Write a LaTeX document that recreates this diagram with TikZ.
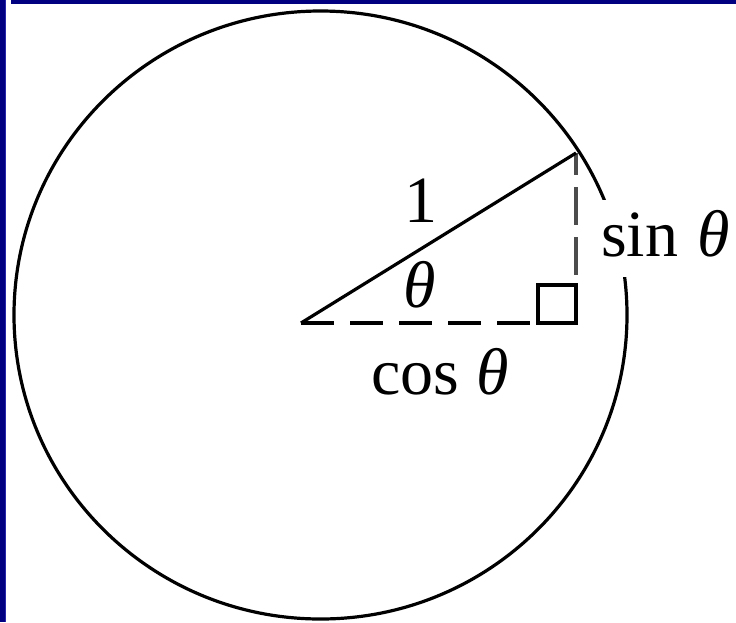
\documentclass[tikz,border=0pt]{standalone}
\usepackage{fontspec}
\setmainfont{Liberation Serif}
\definecolor{navy}{RGB}{0,0,128}
\definecolor{navyedge}{RGB}{40,40,170}
\begin{document}
\begin{tikzpicture}[x=1pt,y=-1pt,
  lbl/.style={font=\fontsize{66}{79}\selectfont, inner sep=0pt, anchor=base},
  stroke/.style={line width=3.2pt, black},
  dashline/.style={line width=3.2pt, black, dash pattern=on 33pt off 16pt}]
\useasboundingbox (0,0) rectangle (736,622);
% frame bands
\fill[navy] (0,0) rectangle (5.4,622);
\fill[navyedge] (5.4,0) rectangle (6.2,622);
\fill[navy] (11,0) rectangle (736,4);
% circle
\coordinate (C) at (320.5,315);
\draw[stroke] (C) ellipse [x radius=306.5pt, y radius=304pt];
% sin label blanks part of circle
\node[lbl, anchor=base west, fill=white, text height=56pt, text depth=21pt, inner xsep=3pt] (sin) at (598,256) {sin\hspace{19pt}\textit{θ}};
% triangle
\coordinate (O) at (301,323);
\coordinate (P) at (576,153);
\coordinate (F) at (576,323);
\coordinate (S1) at (538,323);
\coordinate (S2) at (538,285);
\coordinate (S3) at (576,285);
\draw[dashline] (O) -- (F);
\draw[dashline, black!70, dash pattern=on 38pt off 12pt, dash phase=16pt] (P) -- (F);
\draw[stroke] (O) -- (P);
\draw[stroke, line join=miter] (S1) -- (S2) -- (S3) -- (F) -- cycle;
% labels
\node[lbl] (one) at (420.5,222) {1};
\node[lbl] (th) at (420,307) {\textit{θ}};
\node[lbl] (cos) at (440,394) {cos \textit{θ}};
\end{tikzpicture}
\end{document}
